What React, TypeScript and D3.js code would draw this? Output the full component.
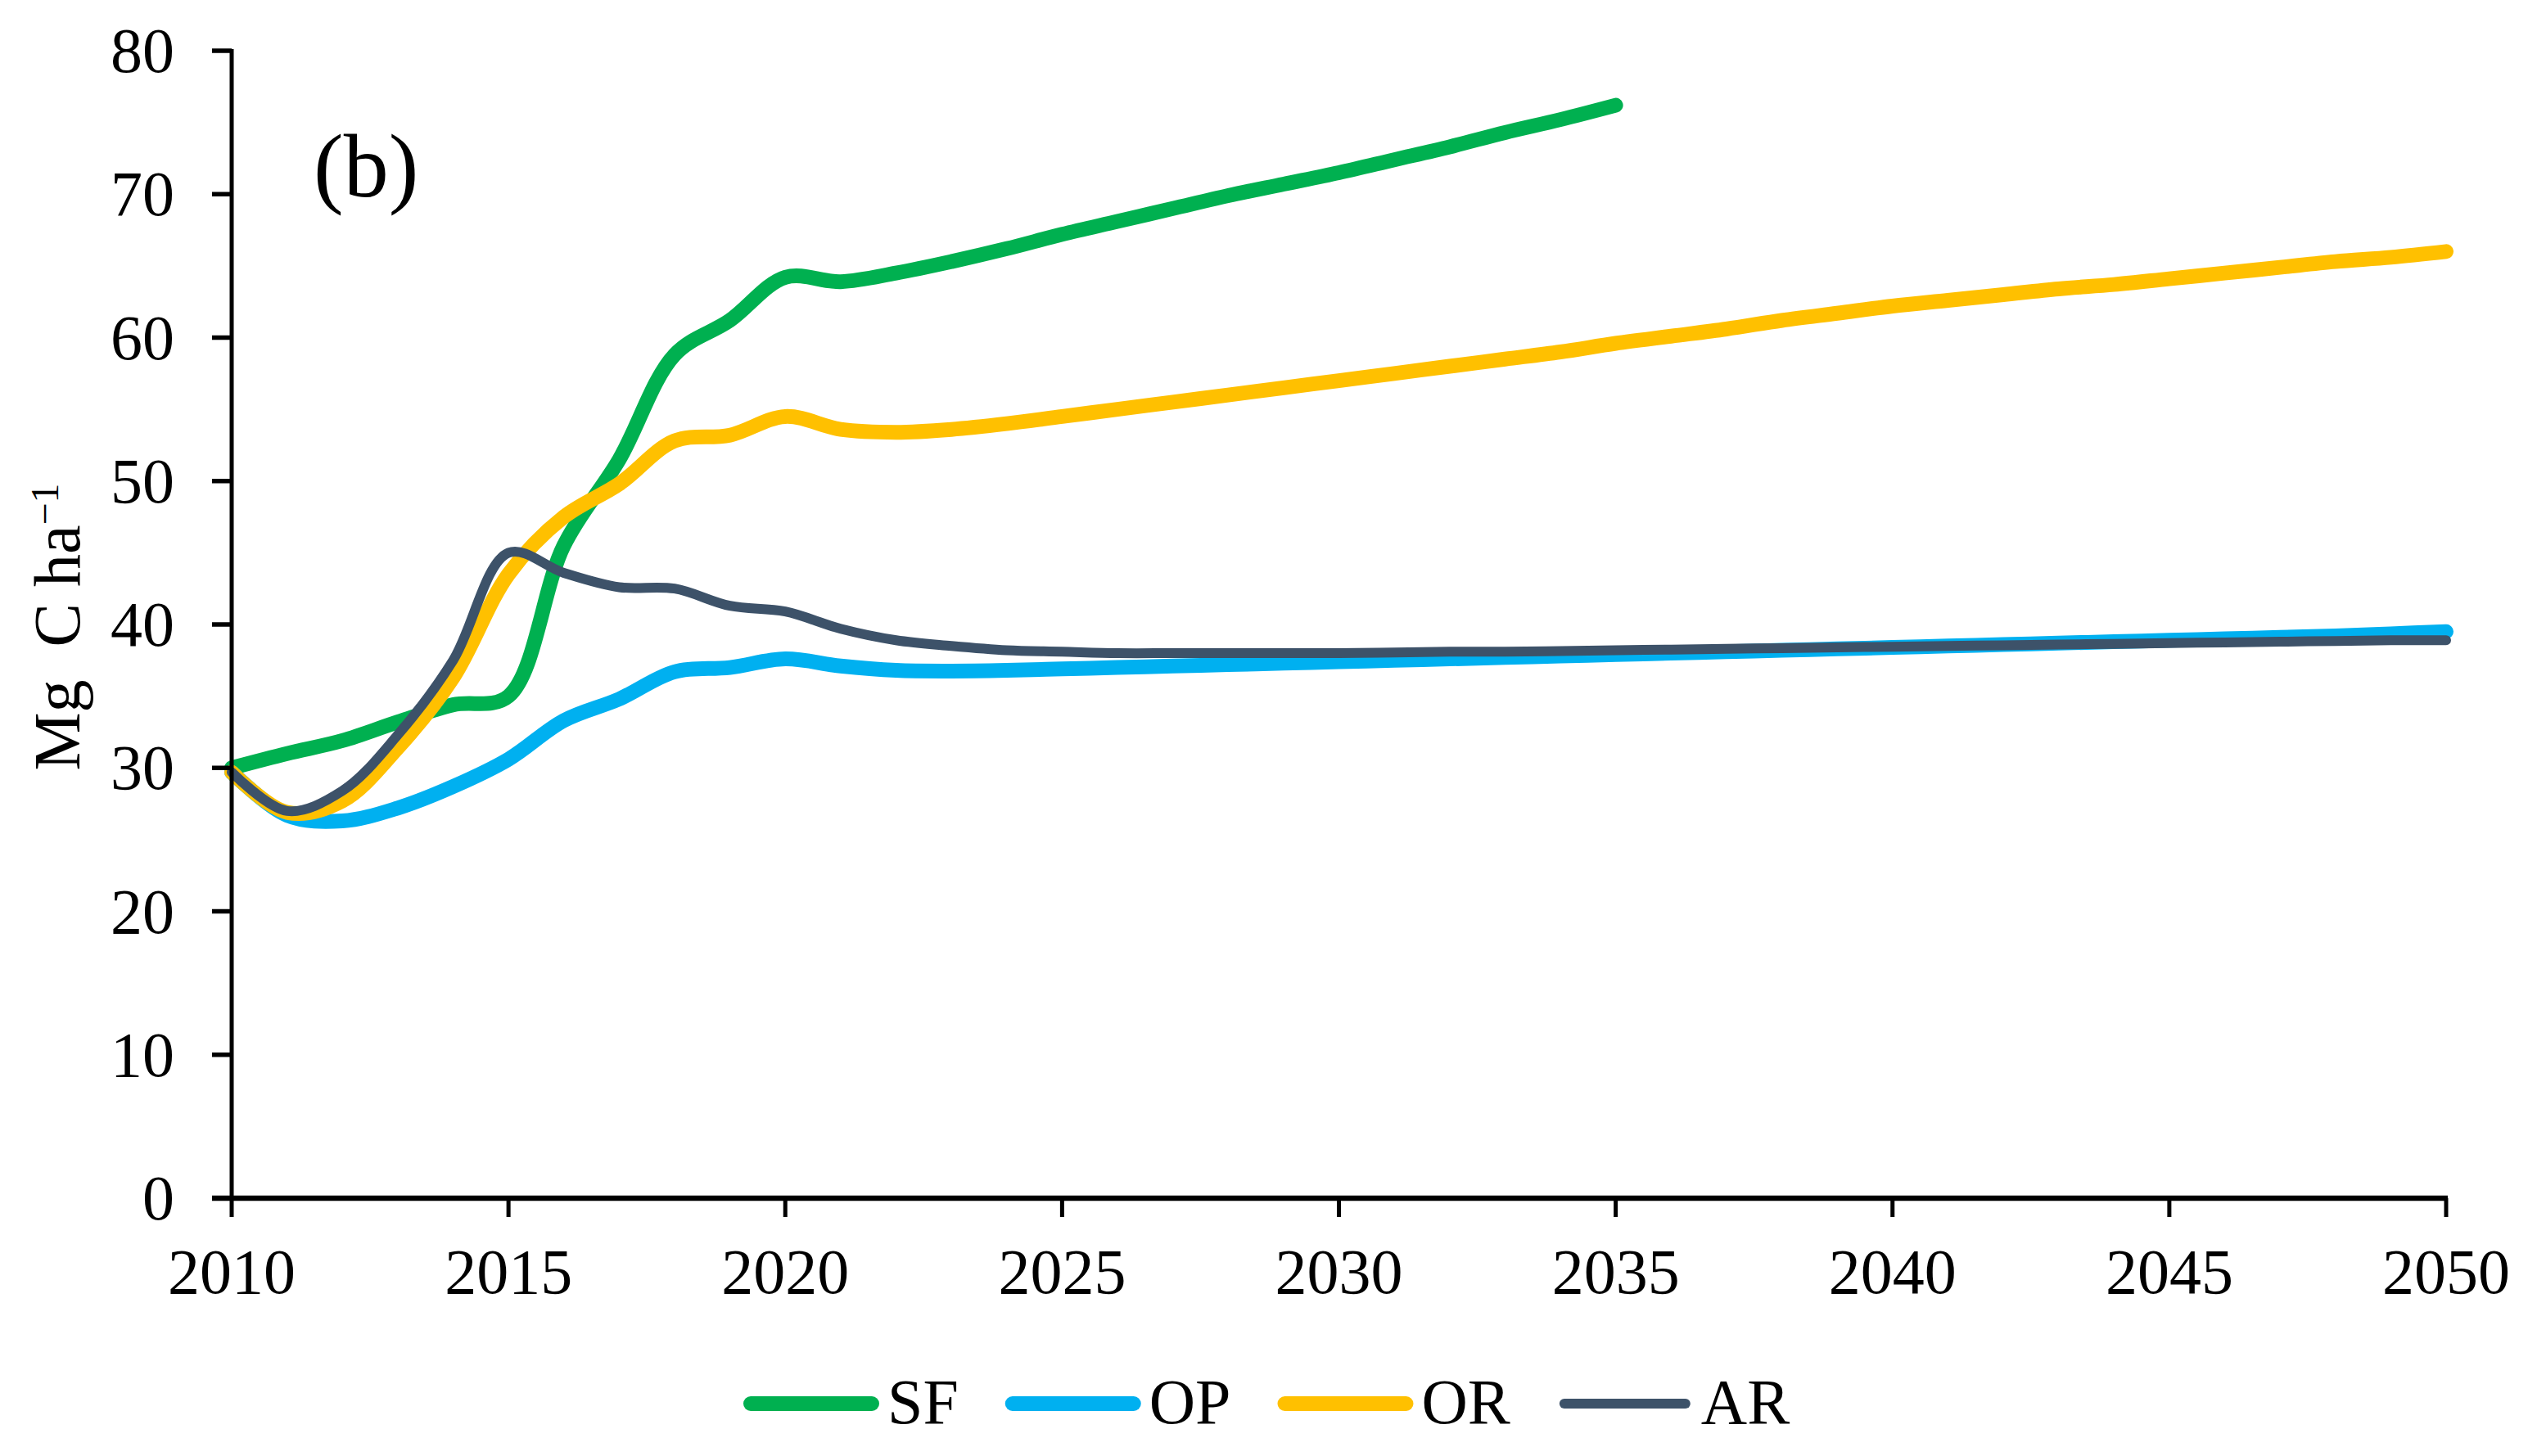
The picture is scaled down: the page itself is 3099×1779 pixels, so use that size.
import { useEffect, useRef } from "react";
import * as d3 from "d3";

const years = d3.range(2010, 2051);
const sfYears = d3.range(2010, 2036);

const sfValues = [
  30.0, 31.0, 31.9, 33.2, 34.4, 35.0, 45.5, 51.5, 58.8, 61.2, 64.2, 63.9, 64.5, 65.3, 66.2, 67.2,
  68.1, 69.0, 69.9, 70.7, 71.5, 72.4, 73.3, 74.3, 75.2, 76.2,
];
const opValues = [
  29.7, 26.7, 26.3, 27.2, 28.7, 30.6, 33.3, 34.8, 36.7, 37.0, 37.6, 37.1, 36.8, 36.75, 36.8, 36.9,
  37.0, 37.1, 37.2, 37.3, 37.4, 37.5, 37.6, 37.7, 37.8, 37.9, 38.0, 38.1, 38.2, 38.3, 38.4, 38.5,
  38.6, 38.7, 38.8, 38.9, 39.0, 39.1, 39.2, 39.35, 39.5,
];
const orValues = [
  29.7, 26.9, 27.7, 31.4, 36.3, 43.5, 47.5, 49.8, 52.8, 53.2, 54.5, 53.6, 53.4, 53.6, 54.0, 54.5,
  55.0, 55.5, 56.0, 56.5, 57.0, 57.5, 58.0, 58.5, 59.0, 59.6, 60.1, 60.6, 61.2, 61.7, 62.2, 62.6,
  63.0, 63.4, 63.7, 64.1, 64.5, 64.9, 65.3, 65.6, 66.0,
];
const arValues = [
  29.7, 27.0, 28.4, 32.3, 37.5, 45.0, 43.6, 42.6, 42.5, 41.3, 40.9, 39.7, 38.9, 38.5, 38.2, 38.1,
  38.0, 38.0, 38.0, 38.0, 38.0, 38.05, 38.1, 38.1, 38.15, 38.2, 38.25, 38.3, 38.35, 38.4, 38.45,
  38.5, 38.55, 38.6, 38.65, 38.7, 38.75, 38.8, 38.85, 38.9, 38.9,
];

const seriesNames = ["SF", "OP", "OR", "AR"];
const seriesColors = ["#00B050", "#00B0F0", "#FFC000", "#3D5269"];
const seriesWidths = [18, 18, 18, 12];
const seriesYears = [sfYears, years, years, years];
const seriesValues = [sfValues, opValues, orValues, arValues];

const xTicks = d3.range(2010, 2051, 5);
const yTicks = d3.range(0, 81, 10);

export default function App() {
  const ref = useRef<SVGSVGElement>(null);

  useEffect(() => {
    if (!ref.current) return;
    const width = 3099;
    const height = 1779;
    const font = "'Liberation Serif', 'Times New Roman', serif";

    const svg = d3.select(ref.current);
    svg.selectAll("*").remove();
    svg.attr("width", width).attr("height", height);
    svg.append("rect").attr("width", width).attr("height", height).attr("fill", "#fff");

    const x = d3.scaleLinear().domain([2010, 2050]).range([283, 2988]);
    const y = d3.scaleLinear().domain([0, 80]).range([1464, 62]);

    // series
    const line = d3
      .line<[number, number]>()
      .x((d) => x(d[0]))
      .y((d) => y(d[1]))
      .curve(d3.curveCatmullRom.alpha(0.5));

    seriesNames.forEach((name, i) => {
      const pts = seriesYears[i].map((yr, j) => [yr, seriesValues[i][j]] as [number, number]);
      svg
        .append("path")
        .attr("d", line(pts))
        .attr("fill", "none")
        .attr("stroke", seriesColors[i])
        .attr("stroke-width", seriesWidths[i])
        .attr("stroke-linecap", "round")
        .attr("stroke-linejoin", "round");
    });

    // y axis
    svg
      .append("line")
      .attr("x1", x(2010))
      .attr("x2", x(2010))
      .attr("y1", y(80) - 2)
      .attr("y2", y(0))
      .attr("stroke", "#000")
      .attr("stroke-width", 5);
    yTicks.forEach((t) => {
      svg
        .append("line")
        .attr("x1", x(2010) - 24)
        .attr("x2", x(2010))
        .attr("y1", y(t))
        .attr("y2", y(t))
        .attr("stroke", "#000")
        .attr("stroke-width", 5.5);
      svg
        .append("text")
        .attr("x", 213)
        .attr("y", y(t) + 26)
        .attr("text-anchor", "end")
        .attr("font-family", font)
        .attr("font-size", 78)
        .text(t);
    });

    // x axis
    svg
      .append("line")
      .attr("x1", x(2010) - 24)
      .attr("x2", x(2050) + 2)
      .attr("y1", y(0))
      .attr("y2", y(0))
      .attr("stroke", "#000")
      .attr("stroke-width", 6.5);
    xTicks.forEach((t) => {
      svg
        .append("line")
        .attr("x1", x(t))
        .attr("x2", x(t))
        .attr("y1", y(0))
        .attr("y2", y(0) + 23)
        .attr("stroke", "#000")
        .attr("stroke-width", 5);
      svg
        .append("text")
        .attr("x", x(t))
        .attr("y", 1580)
        .attr("text-anchor", "middle")
        .attr("font-family", font)
        .attr("font-size", 78)
        .text(t);
    });

    // y title
    const title = svg
      .append("text")
      .attr("transform", "translate(97,766) rotate(-90)")
      .attr("text-anchor", "middle")
      .attr("font-family", font)
      .attr("font-size", 80);
    title.append("tspan").text("Mg\u00a0 C ha");
    title.append("tspan").attr("dy", -26).attr("font-size", 48).text("\u22121");

    // panel label
    svg
      .append("text")
      .attr("x", 383)
      .attr("y", 240)
      .attr("font-family", font)
      .attr("font-size", 110)
      .text("(b)");

    // legend
    const legend = svg.append("g");
    let lx = 908;
    seriesNames.forEach((name, i) => {
      legend
        .append("line")
        .attr("x1", lx + 9)
        .attr("x2", lx + 157)
        .attr("y1", 1715)
        .attr("y2", 1715)
        .attr("stroke", seriesColors[i])
        .attr("stroke-width", seriesWidths[i])
        .attr("stroke-linecap", "round");
      const txt = legend
        .append("text")
        .attr("x", lx + 176)
        .attr("y", 1739)
        .attr("font-family", font)
        .attr("font-size", 78)
        .text(name);
      const w = (txt.node() as SVGTextElement).getComputedTextLength();
      lx = lx + 176 + w + 57;
    });
  }, []);

  return <svg ref={ref} style={{ position: "absolute", left: 0, top: 0 }} />;
}
